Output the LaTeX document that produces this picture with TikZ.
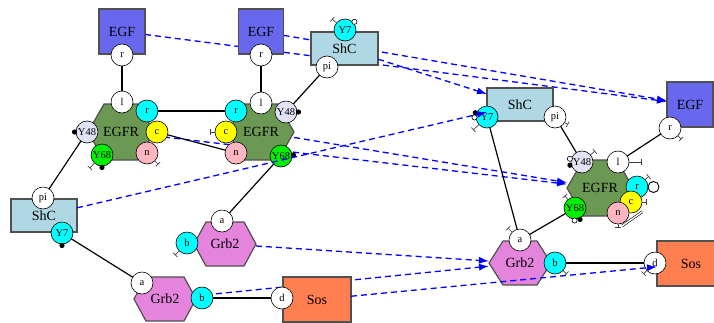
\documentclass[tikz,border=0pt]{standalone}
\usepackage{fontspec}
\setmainfont{Liberation Serif}
\usetikzlibrary{arrows.meta,calc}
\pgfdeclarelayer{background}
\pgfdeclarelayer{front}
\pgfsetlayers{background,main,front}
\definecolor{egfc}{RGB}{104,104,238}
\definecolor{egfrc}{RGB}{107,152,82}
\definecolor{shcc}{RGB}{176,216,228}
\definecolor{grbc}{RGB}{228,132,220}
\definecolor{sosc}{RGB}{255,127,80}
\definecolor{sitecyan}{RGB}{0,255,255}
\definecolor{siteyel}{RGB}{255,255,0}
\definecolor{sitepink}{RGB}{255,182,193}
\definecolor{sitelav}{RGB}{226,226,246}
\definecolor{sitegreen}{RGB}{0,240,0}
\definecolor{bordc}{RGB}{80,80,80}
\newcommand\agentfont{\fontsize{14pt}{14pt}\selectfont}
\newcommand\sitefont{\fontsize{10.5pt}{10.5pt}\selectfont}
% hexagon: x, y, half width, half height, slant, fill
\newcommand\hexat[6]{\path[hexbody,fill=#6] (#1,#2) ++(-#3,0) -- ++(#5,-#4) -- ++({2*#3-2*#5},0) -- ++(#5,#4) -- ++(-#5,#4) -- ++({-(2*#3-2*#5)},0) -- cycle;}
\newcommand\mytee[3]{\draw[teemark] (#1.#2) -- ($(#1)+(#2:#3pt)$);}
\newcommand\mybdot[2]{\fill[black] ($(#1)+(#2:12.5pt)$) circle (2.6pt);}
\newcommand\mywdot[2]{\filldraw[fill=white,draw=black,line width=0.6pt] ($(#1)+(#2:12.5pt)$) circle (2.6pt);}
\tikzset{
  agentbox/.style={rectangle, draw=bordc, line width=1.2pt, inner sep=0pt, outer sep=0pt, font=\agentfont},
  hexlbl/.style={rectangle, inner sep=0pt, outer sep=0pt, font=\agentfont},
  hexbody/.style={draw=bordc, line width=1.2pt},
  site/.style={circle, draw=black, line width=0.6pt, minimum size=22pt, inner sep=0pt, outer sep=0pt, fill=white, font=\sitefont},
  bond/.style={draw=black, line width=1.2pt},
  mapline/.style={draw=blue, line width=1.3pt, dash pattern=on 6pt off 4pt, -{Latex[length=10pt,width=7pt]}},
  teemark/.style={draw=black!75, line width=0.7pt, -{Bar[width=6pt]}},
}
\begin{document}
\begin{tikzpicture}[x=1pt,y=-1pt]
\useasboundingbox (0,0) rectangle (714,322);
% ================= LEFT SIDE =================
% EGF (1)
\node[agentbox, fill=egfc, minimum width=46pt, minimum height=45pt] (egfA) at (122,31.5) {EGF};
\node[site] (egfAr) at (122,55) {r};
% EGFR (1)
\hexat{121}{132}{33}{28}{16}{egfrc}
\node[hexlbl, minimum width=66pt, minimum height=56pt] (egfrA) at (121,132) {EGFR};
\node[site] (egfrAl) at (122,102) {l};
\node[site, fill=sitecyan] (egfrAr) at (147,111) {r};
\node[site, fill=siteyel] (egfrAc) at (157,132) {c};
\node[site, fill=sitepink] (egfrAn) at (147,153) {n};
\node[site, fill=sitelav] (egfrAy48) at (87,132) {Y48};
\node[site, fill=sitegreen] (egfrAy68) at (102,155) {Y68};
\mybdot{egfrAy48}{180}
\mybdot{egfrAy68}{270}
\mytee{egfrAy68}{227}{18}
\mytee{egfrAn}{315}{16}
% EGF (2)
\node[agentbox, fill=egfc, minimum width=45pt, minimum height=45pt] (egfB) at (261,31.5) {EGF};
\node[site] (egfBr) at (261,55) {r};
% EGFR (2)
\hexat{261}{132}{33}{28}{16}{egfrc}
\node[hexlbl, minimum width=66pt, minimum height=56pt] (egfrB) at (261,132) {EGFR};
\node[site] (egfrBl) at (261,103) {l};
\node[site, fill=sitecyan] (egfrBr) at (236,111) {r};
\node[site, fill=siteyel] (egfrBc) at (226,132) {c};
\node[site, fill=sitepink] (egfrBn) at (236,153) {n};
\node[site, fill=sitelav] (egfrBy48) at (286,112) {Y48};
\node[site, fill=sitegreen] (egfrBy68) at (281,156) {Y68};
\mybdot{egfrBy48}{0}
\mybdot{egfrBy68}{5}
\mytee{egfrBc}{180}{16}
% ShC (2, top)
\node[agentbox, fill=shcc, minimum width=67pt, minimum height=33pt] (shcB) at (344.5,48.5) {ShC};
\node[site, fill=sitecyan] (shcBy7) at (345,30) {Y7};
\node[site] (shcBpi) at (327,67) {pi};
\mywdot{shcBy7}{41}
\mytee{shcBy7}{140}{17}
% ShC (1, bottom left)
\node[agentbox, fill=shcc, minimum width=66pt, minimum height=33pt] (shcA) at (44,215.5) {ShC};
\node[site] (shcApi) at (43,198) {pi};
\node[site, fill=sitecyan] (shcAy7) at (62,233) {Y7};
\mybdot{shcAy7}{270}
% Grb2 (2, middle)
\hexat{225}{244}{31}{22}{12}{grbc}
\node[hexlbl, minimum width=62pt, minimum height=44pt] (grbB) at (225,244) {Grb2};
\node[site] (grbBa) at (222,221) {a};
\node[site, fill=sitecyan] (grbBb) at (187,243) {b};
\mytee{grbBb}{225}{17}
% Grb2 (1, bottom)
\hexat{165}{299}{31}{22}{12}{grbc}
\node[hexlbl, minimum width=62pt, minimum height=44pt] (grbA) at (165,299) {Grb2};
\node[site] (grbAa) at (142,283) {a};
\node[site, fill=sitecyan] (grbAb) at (202,298) {b};
% Sos (1)
\node[agentbox, fill=sosc, minimum width=68pt, minimum height=45pt] (sosA) at (317,299.5) {Sos};
\node[site] (sosAd) at (282,298) {d};
% left bonds
\draw[bond] (egfAr) -- (egfrAl);
\draw[bond] (egfrAr) -- (egfrBr);
\draw[bond] (egfrAc) -- (egfrBn);
\draw[bond] (egfrAy48) -- (shcApi);
\draw[bond] (egfBr) -- (egfrBl);
\draw[bond] (egfrBy48) -- (shcBpi);
\draw[bond] (egfrBy68) -- (grbBa);
\draw[bond] (shcAy7) -- (grbAa);
\draw[bond] (grbAb) -- (sosAd);
% ================= RIGHT SIDE =================
% ShC
\node[agentbox, fill=shcc, minimum width=66pt, minimum height=33pt] (shcR) at (520,104.5) {ShC};
\node[site, fill=sitecyan] (shcRy7) at (487,117) {Y7};
\node[site] (shcRpi) at (555,117) {pi};
\mybdot{shcRy7}{160}
\mywdot{shcRy7}{182}
\mytee{shcRy7}{223}{19}
\mytee{shcRpi}{330}{15}
% EGF
\node[agentbox, fill=egfc, minimum width=46pt, minimum height=45pt] (egfR) at (690,104.5) {EGF};
\node[site] (egfRr) at (670,128) {r};
\mytee{egfRr}{315}{16}
% EGFR
\hexat{600}{188}{33}{28}{16}{egfrc}
\node[hexlbl, minimum width=66pt, minimum height=56pt] (egfrR) at (600,188) {EGFR};
\node[site, fill=sitelav] (egfrRy48) at (582,162) {Y48};
\node[site] (egfrRl) at (618,162) {l};
\node[site, fill=sitecyan] (egfrRr) at (637,187) {r};
\node[site, fill=siteyel] (egfrRc) at (631,202) {c};
\node[site, fill=sitepink] (egfrRn) at (618,213) {n};
\node[site, fill=sitegreen] (egfrRy68) at (575,208) {Y68};
\mywdot{egfrRy48}{165}
\mybdot{egfrRy48}{195}
\mytee{egfrRy48}{40}{17}
\mytee{egfrRl}{0}{24}
\mytee{egfrRr}{42}{16}
\mytee{egfrRc}{0}{16}
\mytee{egfrRn}{270}{15}
\mywdot{egfrRy68}{268}
\mybdot{egfrRy68}{294}
\mytee{egfrRy68}{130}{16}
\draw[bond, line width=0.9pt] ($(egfrRr)+(0:16.5pt)$) circle (5.5pt);
\draw[bond, line width=0.6pt, double, double distance=1.4pt] ($(egfrRn)+(-72:13.5pt)$) -- ($(egfrRc)+(-40:15pt)$);
% Grb2
\hexat{520}{263}{31}{22}{14}{grbc}
\node[hexlbl, minimum width=62pt, minimum height=44pt] (grbR) at (520,263) {Grb2};
\node[site] (grbRa) at (520,240) {a};
\node[site, fill=sitecyan] (grbRb) at (555,263) {b};
\mytee{grbRa}{135}{17}
\mytee{grbRb}{317}{16}
% Sos
\node[agentbox, fill=sosc, minimum width=68pt, minimum height=45pt] (sosR) at (691,263.5) {Sos};
\node[site] (sosRd) at (655,263) {d};
\mytee{sosRd}{223}{16}
% right bonds
\draw[bond] (egfRr) -- (egfrRl);
\draw[bond] (shcRpi) -- (egfrRy48);
\draw[bond] (shcRy7) -- (grbRa);
\draw[bond] (egfrRy68) -- (grbRa);
\draw[bond] (grbRb) -- (sosRd);
% ================= MAPPING ARROWS =================
\begin{pgfonlayer}{background}
\draw[mapline] (egfA) -- (egfR);
\draw[mapline] (egfB) -- (egfR);
\draw[mapline] (egfrA) -- (egfrR);
\draw[mapline] (grbA) -- (grbR);
\end{pgfonlayer}
\begin{pgfonlayer}{front}
\draw[mapline] (shcB) -- (shcR);
\draw[mapline] (shcA) -- (shcR);
\draw[mapline] (egfrB) -- (egfrR);
\draw[mapline] (grbB) -- (grbR);
\draw[mapline] (sosA) -- (sosR);
\end{pgfonlayer}
\end{tikzpicture}
\end{document}
